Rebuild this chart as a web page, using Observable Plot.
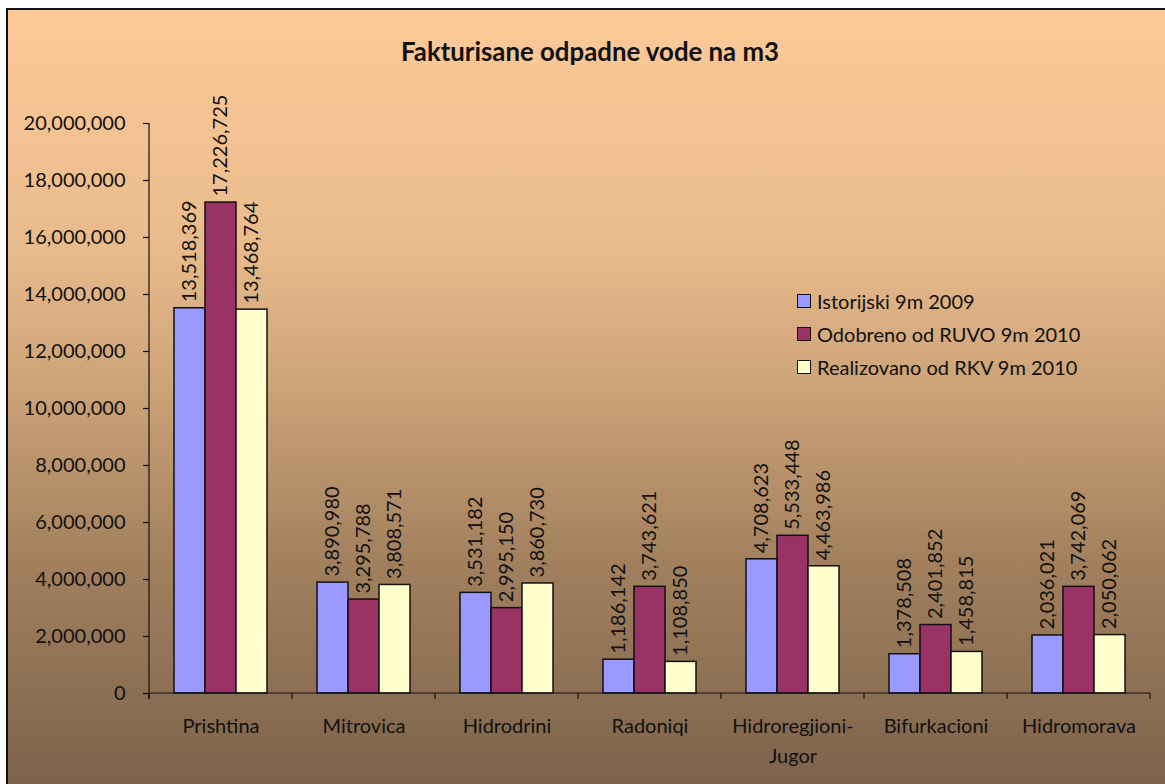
<!DOCTYPE html>
<html>
<head>
<meta charset="utf-8">
<script src="https://cdn.jsdelivr.net/npm/d3@7"></script>
<script src="https://cdn.jsdelivr.net/npm/@observablehq/plot@0.6"></script>
<style>
  html, body { margin: 0; padding: 0; background: #ffffff; overflow: hidden; }
  #chart {
    position: absolute; left: 6px; top: 8px; width: 1170px; height: 790px;
    border: 2px solid #111;
    background: linear-gradient(to bottom, #fdca98 0%, #e9bb8c 30%, #c89f75 50%, #a2805e 70%, #7a614a 100%);
    font-family: Lato, "Open Sans", sans-serif;
    color: #111;
  }
  #title {
    position: absolute; left: 0; top: 24px; width: 1164px; text-align: center;
    font-weight: bold; font-size: 25.8px; line-height: 34px;
  }
  #plot { position: absolute; left: 0; top: 80px; }
  #legend { position: absolute; left: 789px; top: 274px; font-size: 20px; }
  .row { height: 33px; display: flex; align-items: center; }
  .sw { width: 14px; height: 14px; border: 1.5px solid #111; margin-right: 6px; box-sizing: border-box; }
</style>
</head>
<body>
<div id="chart">
  <div id="title">Fakturisane odpadne vode na m3</div>
  <div id="plot"></div>
  <div id="legend"></div>
</div>
<script>
const categories = ["Prishtina", "Mitrovica", "Hidrodrini", "Radoniqi", "Hidroregjioni-\nJugor", "Bifurkacioni", "Hidromorava"];
const seriesNames = ["Istorijski 9m 2009", "Odobreno od RUVO 9m 2010", "Realizovano od RKV 9m 2010"];
const seriesColors = ["#9999ff", "#993366", "#ffffcc"];
const istorijski = [13518369, 3890980, 3531182, 1186142, 4708623, 1378508, 2036021];
const odobreno = [17226725, 3295788, 2995150, 3743621, 5533448, 2401852, 3742069];
const realizovano = [13468764, 3808571, 3860730, 1108850, 4463986, 1458815, 2050062];
const yTicks = [0, 2000000, 4000000, 6000000, 8000000, 10000000, 12000000, 14000000, 16000000, 18000000, 20000000];

const seriesValues = [istorijski, odobreno, realizovano];
const data = [];
categories.forEach((c, i) => {
  seriesNames.forEach((s, j) => data.push({category: c, series: s, value: seriesValues[j][i]}));
});

const fmt = d3.format(",");

// Excel-style axis lines: y-axis line and category boundary ticks, drawn once over the whole plot
const axisRender = (index, scales, values, dimensions) => {
  const {y, fx} = scales;
  const g = d3.create("svg:g").attr("stroke", "#111").attr("stroke-width", 1.2).attr("fill", "none");
  const y0 = y(0), yTop = y(yTicks[yTicks.length - 1]);
  let xs;
  if (fx && fx.bandwidth) {
    xs = categories.map(c => fx(c));
    xs.push(fx(categories[categories.length - 1]) + fx.bandwidth());
  } else {
    const x0 = dimensions.marginLeft, x1 = dimensions.width - dimensions.marginRight;
    xs = d3.range(categories.length + 1).map(i => x0 + (x1 - x0) * i / categories.length);
  }
  g.append("line").attr("x1", xs[0]).attr("x2", xs[0]).attr("y1", yTop).attr("y2", y0 + 6);
  g.append("line").attr("x1", xs[0]).attr("x2", xs[xs.length - 1]).attr("y1", y0).attr("y2", y0);
  for (const x of xs) g.append("line").attr("x1", x).attr("x2", x).attr("y1", y0).attr("y2", y0 + 6);
  return g.node();
};

const chart = Plot.plot({
  width: 1157,
  height: 694,
  marginLeft: 140,
  marginRight: 15,
  marginTop: 33,
  marginBottom: 91,
  style: {fontFamily: "Lato, 'Open Sans', sans-serif", fontSize: "20px", color: "#111", background: "transparent"},
  fx: {domain: categories, paddingInner: 0, paddingOuter: 0, label: null, axis: null},
  x: {domain: seriesNames, paddingInner: 0, paddingOuter: 0.78, axis: null},
  y: {domain: [0, 20000000], label: null, axis: null},
  color: {domain: seriesNames, range: seriesColors},
  marks: [
    Plot.axisY({ticks: yTicks, tickFormat: fmt, tickSize: 6, tickPadding: 18, label: null, stroke: "#111", strokeWidth: 1.2, fontSize: 20}),
    Plot.axisFx({anchor: "bottom", tickSize: 0, tickPadding: 18, label: null, lineHeight: 1.5, fontSize: 20}),
    Plot.barY(data, {fx: "category", x: "series", y: "value", fill: "series", stroke: "#111", strokeWidth: 1.5}),
    Plot.text(data, {fx: "category", x: "series", y: "value", text: d => fmt(d.value), rotate: -90, textAnchor: "start", dy: -6, fill: "#111", fontSize: 20}),
    Plot.frame({facet: "super", render: axisRender})
  ]
});
document.getElementById("plot").appendChild(chart);

const legend = document.getElementById("legend");
seriesNames.forEach((s, j) => {
  const row = document.createElement("div");
  row.className = "row";
  const sw = document.createElement("div");
  sw.className = "sw";
  sw.style.background = seriesColors[j];
  const t = document.createElement("span");
  t.textContent = s;
  row.appendChild(sw); row.appendChild(t);
  legend.appendChild(row);
});
</script>
</body>
</html>
